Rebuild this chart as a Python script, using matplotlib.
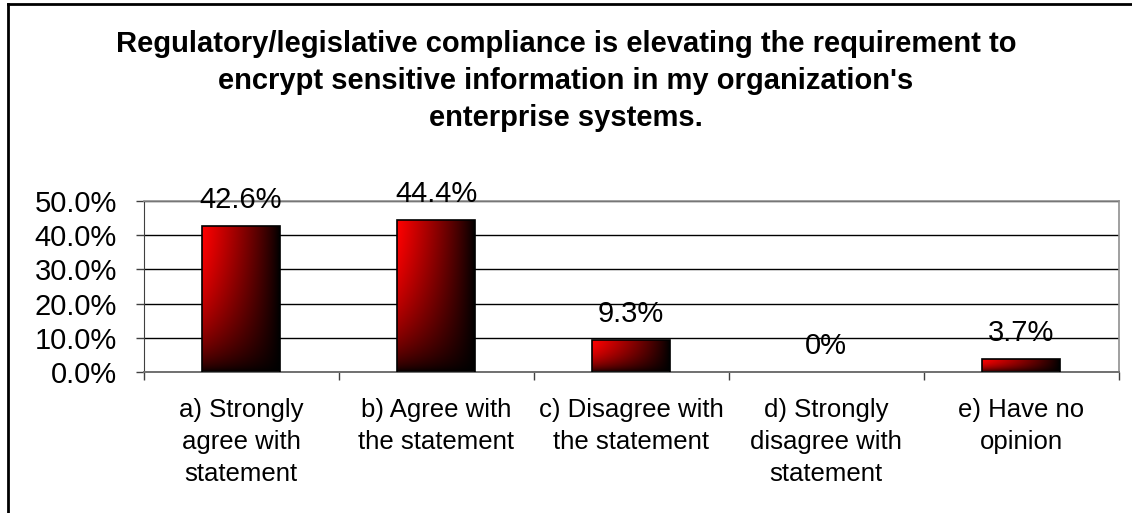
import numpy as np
import matplotlib
matplotlib.use('Agg')
import matplotlib.pyplot as plt
from matplotlib.lines import Line2D
from matplotlib.ticker import FixedLocator, PercentFormatter, NullFormatter

plt.rcParams['font.family'] = ['Liberation Sans', 'DejaVu Sans']

title = ("Regulatory/legislative compliance is elevating the requirement to\n"
         "encrypt sensitive information in my organization's\n"
         "enterprise systems.")
categories = ['a) Strongly\nagree with\nstatement',
              'b) Agree with\nthe statement',
              'c) Disagree with\nthe statement',
              'd) Strongly\ndisagree with\nstatement',
              'e) Have no\nopinion']
shares = [0.426, 0.444, 0.093, 0.0, 0.037]
share_labels = ['42.6%', '44.4%', '9.3%', '0%', '3.7%']


def red_gradient(n=120):
    # bright red in the top-left corner fading to black towards right and bottom
    u = np.linspace(0, 1, n)[None, :]
    v = np.linspace(0, 1, n)[:, None]
    level = np.clip((1 - u) ** 0.85 * (1 - v ** 1.6) ** 0.6, 0, 1)
    img = np.zeros((n, n, 4))
    img[..., 0] = level
    img[..., 3] = 1.0
    return img


fig = plt.figure(figsize=(11.32, 5.13), dpi=100)
ax = fig.add_axes([143.5 / 1132, 1 - 372 / 513, 975 / 1132, 171 / 513])

x = np.arange(len(categories))
bars = ax.bar(x, shares, width=0.4, color='none', edgecolor='black',
              linewidth=1.2, zorder=3)
grad = red_gradient()
for bar in bars:
    h = bar.get_height()
    if h <= 0:
        bar.set_linewidth(0)
        continue
    x0 = bar.get_x()
    im = ax.imshow(grad, extent=(x0, x0 + bar.get_width(), 0, h),
                   aspect='auto', origin='upper', zorder=2.5,
                   interpolation='bilinear')
    im.set_clip_path(bar)

for xi, val, lab in zip(x, shares, share_labels):
    ax.annotate(lab, (xi, val), xytext=(0, 19), textcoords='offset points',
                ha='center', va='center', fontsize=21, color='black', zorder=4)

ax.set_xlim(-0.5, len(categories) - 0.5)
ax.set_ylim(0, 0.5)

ax.yaxis.set_major_locator(FixedLocator(np.arange(0, 0.51, 0.1)))
ax.yaxis.set_major_formatter(PercentFormatter(1.0, decimals=1))
ax.tick_params(axis='y', direction='out', length=6, width=1, color='#404040',
               pad=13, labelsize=21)

ax.xaxis.set_major_locator(FixedLocator(np.arange(-0.5, len(categories), 1.0)))
ax.xaxis.set_major_formatter(NullFormatter())
ax.xaxis.set_minor_locator(FixedLocator(x))
ax.set_xticklabels(categories, minor=True)
ax.tick_params(axis='x', which='major', direction='out', length=6, width=1,
               color='#404040')
ax.tick_params(axis='x', which='minor', length=0, pad=18.5, labelsize=18.5)
for t in ax.get_xticklabels(minor=True):
    t.set_linespacing(1.42)

ax.grid(axis='y', color='black', linewidth=1)
ax.set_axisbelow(True)
for side in ['top', 'right']:
    ax.spines[side].set_color('#909090')
    ax.spines[side].set_linewidth(1.2)
ax.spines['left'].set_color('#404040')
ax.spines['bottom'].set_color('#707070')
ax.spines['bottom'].set_linewidth(1.4)
ax.spines['top'].set_zorder(3.5)

fig.text(0.5, 0.942, title, ha='center', va='top', fontsize=21,
         fontweight='bold', linespacing=1.42)

# chart frame: only the top and left edges are inside the image
fig.add_artist(Line2D([7.5 / 1132, 7.5 / 1132], [0, 1 - 4 / 513],
                      transform=fig.transFigure, color='black', linewidth=2))
fig.add_artist(Line2D([7.5 / 1132, 1], [1 - 4 / 513, 1 - 4 / 513],
                      transform=fig.transFigure, color='black', linewidth=2))

fig.savefig('out.png', dpi=100)
